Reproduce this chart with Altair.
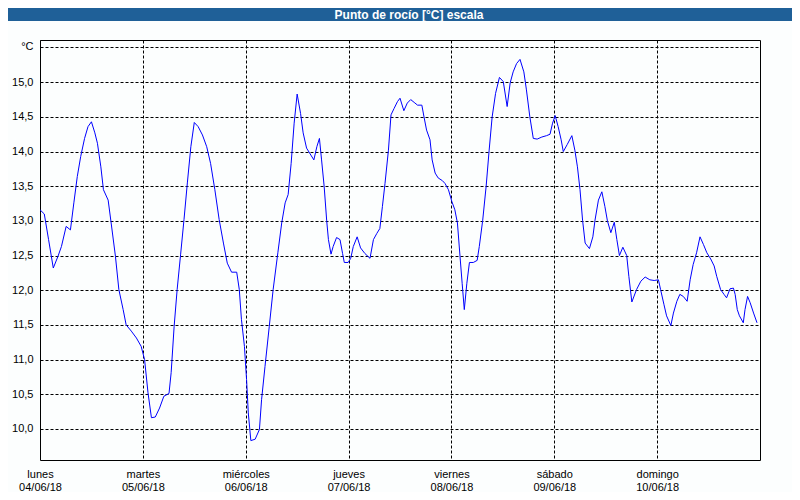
import json
import altair as alt
import pandas as pd

# ---- data (hours since 04/06/18 00:00, dew point °C)
hours = [0.0, 1.0, 2.0, 3.1, 4.2, 5.0, 6.1, 7.1, 7.9, 8.7, 9.5, 10.4, 11.2, 12.0, 12.8, 13.4,
         14.2, 14.8, 15.9, 16.6, 17.6, 18.4, 19.4, 20.1, 21.3, 22.5, 23.6, 24.4, 25.2, 26.0,
         26.9, 27.9, 28.9, 30.1, 30.6, 31.3, 32.0, 32.8, 33.6, 34.4, 35.2, 36.0, 36.9, 37.9,
         38.9, 39.8, 40.8, 41.8, 42.8, 43.7, 44.7, 45.9, 46.5, 47.0, 47.7, 48.2, 48.6, 49.2,
         50.2, 51.2, 51.7, 52.5, 53.5, 54.4, 55.5, 56.4, 57.2, 57.9, 58.6, 59.3, 60.0, 60.8,
         61.4, 62.2, 63.2, 63.9, 64.6, 65.2, 65.7, 66.3, 66.9, 67.3, 67.9, 68.4, 69.2, 70.0,
         70.6, 71.0, 71.9, 72.5, 73.1, 74.0, 74.8, 75.8, 77.0, 77.8, 78.6, 79.3, 79.9, 80.5,
         81.3, 81.9, 82.6, 83.4, 84.0, 84.9, 85.7, 86.5, 87.3, 88.1, 89.1, 89.6, 90.2, 91.0,
         91.5, 92.2, 92.9, 93.9, 94.5, 95.3, 96.1, 96.8, 97.4, 98.0, 98.5, 99.0, 99.6, 100.2,
         101.1, 102.0, 102.5, 103.3, 104.1, 104.8, 105.5, 106.3, 107.2, 108.1, 109.0, 109.7,
         110.4, 111.2, 112.0, 112.9, 113.5, 114.3, 115.1, 116.0, 117.1, 118.2, 119.0, 119.6,
         120.2, 120.9, 121.6, 122.1, 123.0, 124.1, 124.8, 125.4, 126.0, 126.6, 127.2, 128.2,
         129.0, 129.5, 130.3, 131.1, 131.8, 132.4, 133.2, 134.0, 134.6, 135.2, 136.0, 136.9,
         137.4, 138.1, 139.2, 140.2, 141.2, 142.3, 143.3, 144.3, 144.8, 145.6, 146.2, 147.2,
         147.8, 148.6, 149.3, 150.1, 151.0, 151.7, 152.4, 153.2, 154.0, 154.8, 155.6, 156.5,
         157.3, 157.9, 158.8, 159.6, 160.2, 161.0, 161.8, 162.2, 162.7, 163.2, 164.1, 164.5,
         165.1, 165.7, 166.5, 167.3]
dew_point = [13.16, 13.10, 12.73, 12.32, 12.49, 12.63, 12.92, 12.87, 13.26, 13.64, 13.93, 14.19,
             14.36, 14.43, 14.27, 14.12, 13.78, 13.45, 13.30, 12.97, 12.49, 12.01, 11.72, 11.50,
             11.41, 11.31, 11.19, 11.00, 10.52, 10.16, 10.17, 10.30, 10.47, 10.51, 10.81, 11.48,
             12.01, 12.51, 13.02, 13.56, 14.07, 14.42, 14.36, 14.24, 14.07, 13.83, 13.45, 13.02,
             12.68, 12.39, 12.26, 12.26, 12.01, 11.58, 11.19, 10.71, 10.23, 9.83, 9.85, 9.99,
             10.42, 10.90, 11.48, 12.01, 12.54, 12.97, 13.26, 13.38, 13.83, 14.41, 14.83, 14.55,
             14.27, 14.05, 13.95, 13.88, 14.07, 14.19, 13.88, 13.50, 13.00, 12.73, 12.52, 12.63,
             12.76, 12.73, 12.53, 12.40, 12.40, 12.46, 12.63, 12.77, 12.61, 12.53, 12.46, 12.73,
             12.82, 12.89, 13.21, 13.54, 14.02, 14.53, 14.62, 14.72, 14.77, 14.59, 14.70, 14.75,
             14.71, 14.67, 14.67, 14.50, 14.31, 14.17, 13.88, 13.69, 13.62, 13.58, 13.54, 13.45,
             13.28, 13.16, 12.97, 12.49, 12.10, 11.72, 12.10, 12.40, 12.40, 12.43, 12.63, 13.01,
             13.50, 14.02, 14.50, 14.84, 15.07, 15.01, 14.65, 14.99, 15.15, 15.27, 15.33, 15.15,
             14.89, 14.50, 14.19, 14.18, 14.21, 14.23, 14.25, 14.41, 14.52, 14.36, 14.17, 14.00,
             14.10, 14.23, 14.02, 13.78, 13.45, 13.01, 12.68, 12.60, 12.77, 13.01, 13.30, 13.42,
             13.21, 13.00, 12.83, 12.98, 12.73, 12.50, 12.62, 12.50, 12.20, 11.83, 12.01, 12.13,
             12.19, 12.15, 12.14, 12.15, 12.01, 11.79, 11.63, 11.49, 11.67, 11.84, 11.94, 11.91,
             11.84, 12.15, 12.37, 12.54, 12.77, 12.66, 12.54, 12.45, 12.35, 12.20, 12.01, 11.94,
             11.89, 12.02, 12.03, 11.94, 11.72, 11.63, 11.53, 11.72, 11.91, 11.82, 11.67, 11.53]

day_ticks = [0, 24, 48, 72, 96, 120, 144]
day_names = ["lunes", "martes", "miércoles", "jueves", "viernes", "sábado", "domingo"]
day_dates = ["04/06/18", "05/06/18", "06/06/18", "07/06/18", "08/06/18", "09/06/18", "10/06/18"]
y_ticks = [10.0, 10.5, 11.0, 11.5, 12.0, 12.5, 13.0, 13.5, 14.0, 14.5, 15.0, 15.51]
unit_label = "°C"
title_text = "Punto de rocío [°C] escala"

df = pd.DataFrame({"h": hours, "v": dew_point})

W, H = 720, 420
FONT = "Liberation Sans"
BLUE_BAR = "#1f6098"

names_js = json.dumps(day_names, ensure_ascii=False)
dates_js = json.dumps(day_dates, ensure_ascii=False)
x_label_expr = f"[{names_js}[round(datum.value/24)], {dates_js}[round(datum.value/24)]]"
y_label_expr = f"datum.value > 15.2 ? '{unit_label}' : replace(format(datum.value, '.1f'), '.', ',')"

line = alt.Chart(df).mark_line(color="#0000ff", strokeWidth=1).encode(
    x=alt.X("h:Q", scale=alt.Scale(domain=[0, 168], nice=False, zero=False),
            axis=alt.Axis(values=day_ticks, labelExpr=x_label_expr, grid=True,
                          gridDash=[3, 2], gridColor="black", gridOpacity=1, gridWidth=1,
                          ticks=False, domain=False, labelPadding=8, labelLineHeight=13,
                          labelFont=FONT, labelFontSize=11, labelColor="black",
                          labelBound=False, labelFlush=False, labelOverlap=False,
                          labelAlign="center", labelBaseline="top", title=None)),
    y=alt.Y("v:Q", scale=alt.Scale(domain=[9.55, 15.61], nice=False, zero=False),
            axis=alt.Axis(values=y_ticks, labelExpr=y_label_expr, grid=True,
                          gridDash=[3, 2], gridColor="black", gridOpacity=1, gridWidth=1,
                          ticks=False, domain=False, labelPadding=7,
                          labelFont=FONT, labelFontSize=11, labelColor="black",
                          labelBound=False, labelFlush=False, labelOverlap=False,
                          labelAlign="right", labelBaseline="middle", title=None)),
)

title_df = pd.DataFrame({"t": [title_text]})
bar = alt.Chart(title_df).mark_rect(color=BLUE_BAR).encode(
    x=alt.value(-32), x2=alt.value(752), y=alt.value(-32), y2=alt.value(-19))
title = alt.Chart(title_df).mark_text(color="white", font=FONT, fontSize=12, fontWeight="bold",
                                      align="center", baseline="middle").encode(
    x=alt.value(369), y=alt.value(-25.5), text="t:N")

chart = alt.layer(bar, title, line).properties(
    width=W, height=H,
    autosize=alt.AutoSizeParams(type="none"),
    padding={"left": 32, "top": 32, "right": 32, "bottom": 32},
    background="#fcfefe",
).configure_view(stroke="black", strokeWidth=1)

chart.save("out.html", embed_options={"renderer": "svg", "actions": False})
